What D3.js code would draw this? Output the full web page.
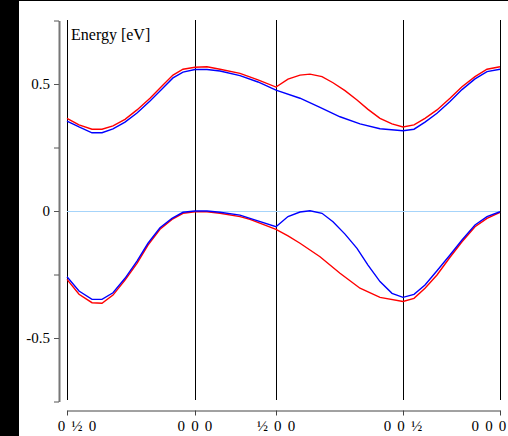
<!DOCTYPE html>
<meta charset="utf-8">
<title>Band structure</title>
<script src="https://d3js.org/d3.v7.min.js"></script>
<style>
  body { margin: 0; background: #fff; }
  text { font-family: "Liberation Serif", "Times New Roman", serif; }
</style>
<div id="my_dataviz"></div>
<script>
// k-path positions of the high symmetry points and their labels
var kTicks = [0, 1.28, 2.09, 3.36, 4.33];
var kLabels = ["0 \u00bd 0", "0 0 0", "\u00bd 0 0", "0 0 \u00bd", "0 0 0"];

// energy ticks (eV)
var eTicks = [-0.75, -0.5, -0.25, 0, 0.25, 0.5, 0.75];
var eLabels = ["", "-0.5", "", "0", "", "0.5", ""];

// k positions where the bands were read
var kUpRed = [0, 0.12, 0.25, 0.35, 0.46, 0.58, 0.70, 0.83, 0.96, 1.06, 1.16, 1.28, 1.40, 1.53, 1.73, 1.91, 2.09, 2.21, 2.33, 2.43, 2.55, 2.66, 2.78, 2.90, 3.01, 3.13, 3.25, 3.36, 3.47, 3.58, 3.70, 3.83, 3.95, 4.08, 4.20, 4.33];
var eUpRed = [0.365, 0.339, 0.322, 0.322, 0.335, 0.361, 0.398, 0.444, 0.496, 0.535, 0.558, 0.566, 0.568, 0.558, 0.542, 0.516, 0.488, 0.519, 0.535, 0.539, 0.529, 0.505, 0.474, 0.437, 0.400, 0.365, 0.343, 0.331, 0.339, 0.365, 0.398, 0.444, 0.489, 0.529, 0.558, 0.568];

var kUpBlue = [0, 0.12, 0.25, 0.35, 0.46, 0.58, 0.70, 0.83, 0.96, 1.06, 1.16, 1.28, 1.40, 1.53, 1.73, 1.91, 2.09, 2.33, 2.53, 2.73, 2.93, 3.13, 3.36, 3.47, 3.58, 3.70, 3.83, 3.95, 4.08, 4.20, 4.33];
var eUpBlue = [0.354, 0.331, 0.308, 0.308, 0.323, 0.350, 0.386, 0.433, 0.484, 0.524, 0.547, 0.557, 0.557, 0.551, 0.533, 0.508, 0.476, 0.444, 0.408, 0.371, 0.343, 0.324, 0.316, 0.322, 0.350, 0.385, 0.431, 0.478, 0.520, 0.549, 0.558];

var kLowRed = [0, 0.12, 0.25, 0.35, 0.46, 0.58, 0.70, 0.81, 0.93, 1.05, 1.16, 1.28, 1.40, 1.53, 1.73, 1.83, 2.09, 2.21, 2.33, 2.53, 2.73, 2.93, 3.13, 3.36, 3.47, 3.58, 3.70, 3.83, 3.95, 4.08, 4.20, 4.33];
var eLowRed = [-0.269, -0.328, -0.361, -0.363, -0.331, -0.272, -0.206, -0.134, -0.072, -0.033, -0.009, -0.003, -0.003, -0.009, -0.022, -0.033, -0.072, -0.098, -0.127, -0.180, -0.245, -0.304, -0.340, -0.356, -0.344, -0.304, -0.252, -0.182, -0.121, -0.062, -0.029, -0.005];

var kLowBlue = [0, 0.12, 0.25, 0.35, 0.46, 0.58, 0.70, 0.81, 0.93, 1.05, 1.16, 1.28, 1.40, 1.53, 1.73, 1.83, 2.09, 2.21, 2.33, 2.43, 2.55, 2.66, 2.78, 2.90, 3.01, 3.13, 3.25, 3.36, 3.47, 3.58, 3.70, 3.83, 3.95, 4.08, 4.20, 4.33];
var eLowBlue = [-0.259, -0.315, -0.348, -0.348, -0.322, -0.265, -0.197, -0.127, -0.066, -0.029, -0.005, 0.000, 0.000, -0.005, -0.016, -0.029, -0.062, -0.022, -0.004, 0.001, -0.009, -0.042, -0.091, -0.147, -0.213, -0.278, -0.324, -0.340, -0.328, -0.291, -0.235, -0.173, -0.114, -0.055, -0.022, -0.003];

var width = 508, height = 436;

var svg = d3.select("#my_dataviz")
  .append("svg")
    .attr("width", width)
    .attr("height", height);

// black frame strips of the original window
svg.append("rect").attr("x", 0).attr("y", 0).attr("width", 19).attr("height", height).attr("fill", "#000");
svg.append("rect").attr("x", 0).attr("y", 0).attr("width", width).attr("height", 1).attr("fill", "#000");

var x = d3.scaleLinear().domain([0, 4.33]).range([67, 500]);
var y = d3.scaleLinear().domain([-0.75, 0.75]).range([401.5, 20.5]);

// y axis
var yAxis = svg.append("g")
  .attr("transform", "translate(59,0)")
  .call(d3.axisLeft(y)
    .tickValues(eTicks)
    .tickSize(5)
    .tickSizeOuter(0)
    .tickPadding(4)
    .tickFormat(function(d, i) { return eLabels[i]; }));
yAxis.select(".domain").attr("stroke", "#777").attr("stroke-width", 2);
yAxis.selectAll(".tick line").attr("stroke", "#555");
yAxis.selectAll(".tick text")
  .attr("fill", "#000")
  .style("font-size", "15px")
  .style("font-family", "'Liberation Serif', serif");

// x axis
var xAxis = svg.append("g")
  .attr("transform", "translate(0,410.5)")
  .call(d3.axisBottom(x)
    .tickValues(kTicks)
    .tickSize(5)
    .tickSizeOuter(0)
    .tickPadding(5)
    .tickFormat(function(d, i) { return kLabels[i]; }));
xAxis.select(".domain").attr("stroke", "#444");
xAxis.selectAll(".tick line").attr("stroke", "#444");
xAxis.selectAll(".tick text")
  .attr("fill", "#000")
  .style("font-size", "15px")
  .style("letter-spacing", "1.2px")
  .style("font-family", "'Liberation Serif', serif")
  .attr("dx", function(d, i) { return i == 0 ? 10 : (i == kTicks.length - 1 ? -11 : 0); });

// vertical lines at high symmetry points
svg.selectAll("kLine")
  .data(kTicks)
  .enter().append("line")
    .attr("x1", function(d) { return Math.round(x(d)) + 0.5; })
    .attr("x2", function(d) { return Math.round(x(d)) + 0.5; })
    .attr("y1", 20)
    .attr("y2", 400)
    .attr("stroke", "#000")
    .attr("stroke-width", 1);

// zero line
svg.append("line")
  .attr("x1", x(0)).attr("x2", x(4.33))
  .attr("y1", Math.round(y(0)) + 0.5).attr("y2", Math.round(y(0)) + 0.5)
  .attr("stroke", "#a6d4fa")
  .attr("stroke-width", 1);

var bands = [
  { k: kUpRed, e: eUpRed, color: "#ff0000" },
  { k: kLowRed, e: eLowRed, color: "#ff0000" },
  { k: kUpBlue, e: eUpBlue, color: "#0000ff" },
  { k: kLowBlue, e: eLowBlue, color: "#0000ff" }
];

var line = d3.line()
  .x(function(d) { return x(d[0]); })
  .y(function(d) { return y(d[1]); });

svg.selectAll("band")
  .data(bands)
  .enter().append("path")
    .attr("d", function(b) { return line(b.k.map(function(k, i) { return [k, b.e[i]]; })); })
    .attr("fill", "none")
    .attr("stroke", function(b) { return b.color; })
    .attr("stroke-width", 1.4);

// axis title inside the plot
svg.append("text")
  .attr("x", 71)
  .attr("y", 40)
  .style("font-size", "16px")
  .attr("fill", "#000")
  .text("Energy [eV]");
</script>
